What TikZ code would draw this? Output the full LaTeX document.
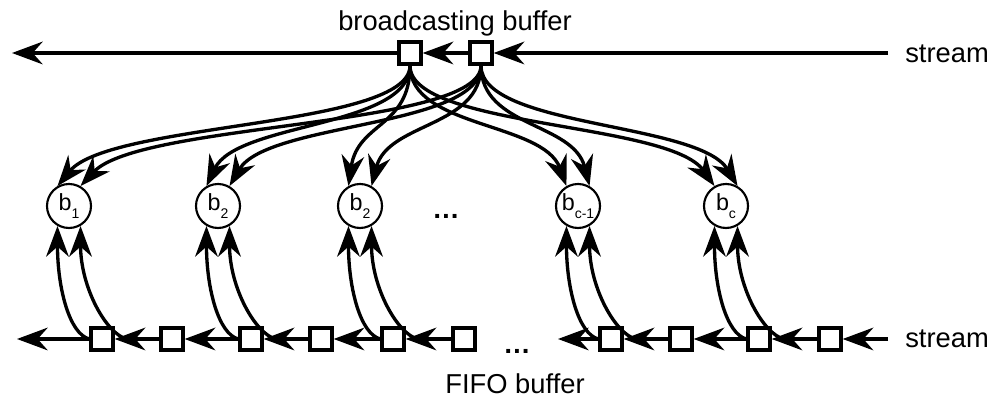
\documentclass[tikz,border=0pt]{standalone}
\usepackage{fontspec}
\setmainfont{Liberation Sans}
\usetikzlibrary{arrows.meta,calc}

% fan-out curve from a broadcasting cell down to a filter input
\newcommand\fanout[2]{%
  \draw[flow] (#1.south) .. controls ($(#1.south)+(0,62)$)
    and ($(#2)!0.15!(#1.south)+(0,-46)$) .. (#2);}
% rising curve from a FIFO position up to a filter input
\newcommand\riseup[3]{%
  \draw[flow] (#1) .. controls ($(#1)+(#3,-5)$)
    and ($(#2)+(0,62)$) .. (#2);}
\newcommand\sub[1]{\raisebox{-6.5pt}{\fontsize{10.5}{12}\selectfont #1}}

\begin{document}
\begin{tikzpicture}[x=0.75pt,y=-0.75pt,
  cell/.style={draw, line width=2.5pt, fill=white, minimum size=16.5pt, inner sep=0pt},
  filt/.style={draw, circle, line width=1.6pt, fill=white, minimum size=33pt, inner sep=0pt,
    font=\fontsize{17.5}{18}\selectfont},
  flow/.style={line width=2.5pt, -{Stealth[length=23pt,width=17pt,inset=7.5pt]}},
  lbl/.style={font=\fontsize{20.5}{24}\selectfont, inner sep=0pt}
]
\useasboundingbox (0,0) rectangle (1002,398);

% labels
\node[lbl, anchor=base] (title) at (455,31) {broadcasting buffer};
\node[lbl, anchor=base west] (s1) at (905,63) {stream};
\node[lbl, anchor=base west] (s2) at (905,348) {stream};
\node[lbl, anchor=base] (fifo) at (515,393) {FIFO buffer};
\node[lbl, anchor=base] (dots1) at (446,219) {\textbf{\ldots}};
\node[lbl, anchor=base] (dots2) at (517,354) {\textbf{\ldots}};

% broadcasting buffer cells
\node[cell] (bb1) at (410,53) {};
\node[cell] (bb2) at (481,53) {};
\coordinate (tin) at (888,53);
\coordinate (tout) at (12,53);

% filters
\node[filt] (c1) at (69,206) {b\sub{1}};
\node[filt] (c2) at (218,206) {b\sub{2}};
\node[filt] (c3) at (360,206) {b\sub{2}};
\node[filt] (c4) at (578,206) {b\sub{c-1}};
\node[filt] (c5) at (726,206) {b\sub{c}};

% FIFO buffer cells
\foreach \i/\x in {1/102,2/172,3/251,4/321,5/393,6/464,7/611,8/681,9/759,10/830}
  \node[cell] (f\i) at (\x,339) {};
\coordinate (fin) at (888,339);
\coordinate (fout) at (17,339);
\coordinate (gout) at (558,339);

% top stream
\draw[flow] (tin) -- (bb2.east);
\draw[flow] (bb2.west) -- (bb1.east);
\draw[flow] (bb1.west) -- (tout);

% bottom stream
\draw[flow] (fin) -- (f10.east);
\draw[flow] (f10.west) -- (f9.east);
\draw[flow] (f9.west) -- (f8.east);
\draw[flow] (f8.west) -- (f7.east);
\draw[flow] (f7.west) -- (gout);
\draw[flow] (f6.west) -- (f5.east);
\draw[flow] (f5.west) -- (f4.east);
\draw[flow] (f4.west) -- (f3.east);
\draw[flow] (f3.west) -- (f2.east);
\draw[flow] (f2.west) -- (f1.east);
\draw[flow] (f1.west) -- (fout);

% broadcast to every filter
\foreach \c in {c1,c2,c3,c4,c5} {
  \fanout{bb1}{\c.120}
  \fanout{bb2}{\c.60}
}

% FIFO taps into the filters
\foreach \f/\c in {f1/c1,f3/c2,f5/c3,f7/c4,f9/c5} {
  \riseup{\f.west}{\c.240}{-20}
  \coordinate (\f-tap) at ($(\f.east)+(12,0)$);
  \riseup{\f-tap}{\c.300}{-20}
}
\end{tikzpicture}
\end{document}
